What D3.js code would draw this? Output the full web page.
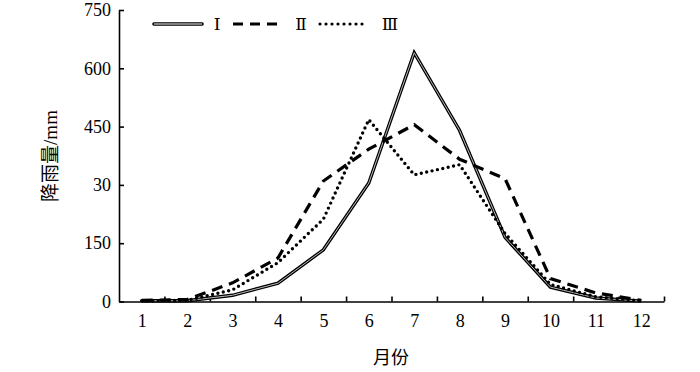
<!DOCTYPE html>
<html lang="zh">
<head>
    <meta charset="UTF-8">
    <title>降雨量</title>
    <script src="https://d3js.org/d3.v7.min.js"></script>
    <style>
        body { margin: 0; background: #fff; }
        svg { display: block; }
        text { font-family: "Liberation Serif", "DejaVu Serif", "Noto Sans CJK SC", serif; fill: #000; }
    </style>
</head>
<body>
    <script>
        // data
        const months = [1, 2, 3, 4, 5, 6, 7, 8, 9, 10, 11, 12];
        const rainI   = [2, 2, 16, 47, 133, 305, 640, 440, 165, 37, 9, 1];
        const rainII  = [3, 5, 48, 112, 310, 392, 455, 366, 316, 59, 22, 3];
        const rainIII = [2, 3, 30, 100, 212, 468, 326, 352, 175, 44, 12, 2];
        const yTicks = [0, 150, 300, 450, 600, 750];
        const yTickLabels = ["0", "150", "30", "450", "600", "750"]; // "30" as printed in the original
        const seriesNames = ["Ⅰ", "Ⅱ", "Ⅲ"];

        const w = 700;
        const h = 372;
        const padLeft = 119;
        const padRight = 664;
        const padTop = 10;
        const padBottom = 301.5;

        const svg = d3.select("body")
            .append("svg")
            .attr("width", w)
            .attr("height", h);

        // x: one band per month, ticks on the band edges
        const x = d3.scaleLinear()
            .domain([0.5, 12.5])
            .range([padLeft, padRight]);
        const y = d3.scaleLinear()
            .domain([0, 750])
            .range([padBottom, padTop]);

        // x tick marks (pointing up)
        svg.append("g")
            .attr("transform", `translate(0,${padBottom})`)
            .call(d3.axisBottom(x)
                .tickValues(d3.range(1.5, 13, 1))
                .tickSizeInner(-5)
                .tickSizeOuter(0)
                .tickFormat(""))
            .call(g => g.selectAll("line, path").attr("stroke", "#000").attr("stroke-width", 1.6));

        // x labels in the middle of each band
        svg.append("g")
            .attr("transform", `translate(0,${padBottom})`)
            .call(d3.axisBottom(x)
                .tickValues(months)
                .tickSize(0)
                .tickPadding(13)
                .tickFormat(d => d))
            .call(g => g.select(".domain").remove())
            .call(g => g.selectAll("text").style("font-size", "18px"));

        // y axis, ticks pointing right
        svg.append("g")
            .attr("transform", `translate(${padLeft},0)`)
            .call(d3.axisLeft(y)
                .tickValues(yTicks)
                .tickSizeInner(-5)
                .tickSizeOuter(0)
                .tickPadding(8)
                .tickFormat((d, i) => yTickLabels[i]))
            .call(g => g.selectAll("line, path").attr("stroke", "#000").attr("stroke-width", 1.6))
            .call(g => g.selectAll("text").style("font-size", "18px"));

        svg.selectAll("g").attr("font-family", null).attr("font-size", null);

        const line = d3.line()
            .x((d, i) => x(months[i]))
            .y(d => y(d));

        // series I: outlined (double) line
        svg.append("path")
            .datum(rainI)
            .attr("d", line)
            .attr("fill", "none")
            .attr("stroke", "#000")
            .attr("stroke-width", 3.4);
        svg.append("path")
            .datum(rainI)
            .attr("d", line)
            .attr("fill", "none")
            .attr("stroke", "#bbb")
            .attr("stroke-width", 1);

        // series II: dashed
        svg.append("path")
            .datum(rainII)
            .attr("d", line)
            .attr("fill", "none")
            .attr("stroke", "#000")
            .attr("stroke-width", 3.2)
            .attr("stroke-dasharray", "11,7");

        // series III: dotted
        svg.append("path")
            .datum(rainIII)
            .attr("d", line)
            .attr("fill", "none")
            .attr("stroke", "#000")
            .attr("stroke-width", 3.4)
            .attr("stroke-linecap", "round")
            .attr("stroke-dasharray", "0,5.5");

        // legend
        const ly = 24;
        svg.append("line")
            .attr("x1", 154).attr("x2", 202).attr("y1", ly).attr("y2", ly)
            .attr("stroke", "#000").attr("stroke-width", 3.6)
            .attr("stroke-linecap", "round");
        svg.append("line")
            .attr("x1", 154).attr("x2", 202).attr("y1", ly).attr("y2", ly)
            .attr("stroke", "#aaa").attr("stroke-width", 1.4);
        svg.append("line")
            .attr("x1", 233).attr("x2", 279).attr("y1", ly).attr("y2", ly)
            .attr("stroke", "#000").attr("stroke-width", 3.2)
            .attr("stroke-dasharray", "10,7");
        svg.append("line")
            .attr("x1", 320).attr("x2", 366).attr("y1", ly).attr("y2", ly)
            .attr("stroke", "#000").attr("stroke-width", 3.2)
            .attr("stroke-linecap", "round")
            .attr("stroke-dasharray", "0,6");
        const legendX = [217, 301, 390];
        svg.selectAll("text.legend")
            .data(seriesNames)
            .enter()
            .append("text")
            .attr("class", "legend")
            .attr("x", (d, i) => legendX[i])
            .attr("y", ly + 6)
            .attr("text-anchor", "middle")
            .style("font-size", "17px")
            .text(d => d);

        // axis titles
        svg.append("text")
            .attr("x", 391)
            .attr("y", 364)
            .attr("text-anchor", "middle")
            .style("font-size", "18px")
            .text("月份");
        svg.append("text")
            .attr("transform", "translate(57,156) rotate(-90)")
            .attr("text-anchor", "middle")
            .style("font-size", "19px")
            .text("降雨量/mm");
    </script>
</body>
</html>
